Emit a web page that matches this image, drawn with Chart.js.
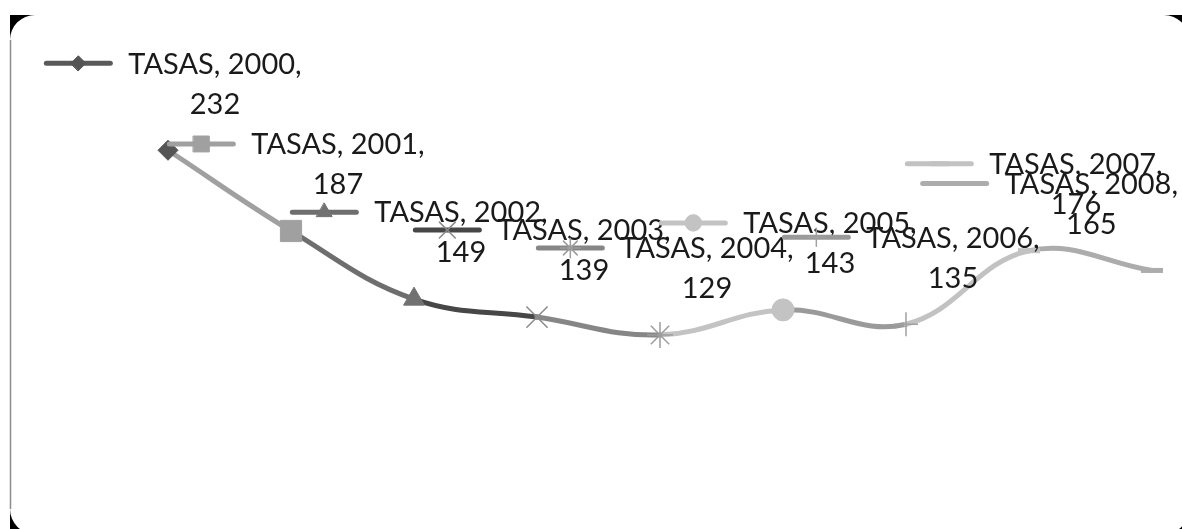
<!DOCTYPE html>
<html>
<head>
<meta charset="utf-8">
<script src="https://cdn.jsdelivr.net/npm/chart.js@4"></script>
<style>
  html, body { margin: 0; padding: 0; background: #fff; }
  #wrap { position: relative; width: 1182px; height: 529px; }
</style>
</head>
<body>
<div id="wrap"><canvas id="myChart" width="1182" height="529"></canvas></div>
<script>
"use strict";

// data
const seriesName = "TASAS";
const years = ["2000", "2001", "2002", "2003", "2004", "2005", "2006", "2007", "2008"];
const tasas = [232, 187, 149, 139, 129, 143, 135, 176, 165];

// per point styling (line colour = segment ending at that point)
const lineColors = ["#5a5a5a", "#a0a0a0", "#6e6e6e", "#474747", "#868686", "#c3c3c3", "#9a9a9a", "#c2c2c2", "#acacac"];
const markerColors = ["#555555", "#a0a0a0", "#717171", "#8a8a8a", "#9c9c9c", "#c3c3c3", "#a0a0a0", "#c2c2c2", "#acacac"];
const markerStyles = ["rectRot", "rect", "triangle", "crossRot", "star", "circle", "cross", "line", "line"];
const markerRadius = [10, 15, 12, 15, 13, 11, 12, 11, 11];
const markerBorder = [1, 1, 1, 1.5, 1.5, 1, 1.5, 5, 5];

const FONT = "29px Lato, 'Open Sans', sans-serif";

function drawMarker(ctx, i, x, y, scale) {
	let opts = {
		pointStyle: markerStyles[i],
		radius: markerRadius[i] * scale,
		rotation: 0,
		borderWidth: markerBorder[i]
	};
	ctx.save();
	ctx.fillStyle = markerColors[i];
	ctx.strokeStyle = markerColors[i];
	ctx.lineWidth = markerBorder[i];
	Chart.helpers.drawPoint(ctx, opts, x, y);
	ctx.restore();
}

// rounded frame with black corners, like the cropped picture
const framePlugin = {
	id: "frame",
	beforeDraw(chart) {
		let ctx = chart.ctx;
		let L = 10, T = 15, R = 1189, B = 534, r = 25;
		ctx.save();
		ctx.fillStyle = "#fff";
		ctx.fillRect(0, 0, chart.width, chart.height);
		ctx.fillStyle = "#000";
		ctx.fillRect(L, T, R - L, B - T);
		ctx.fillStyle = "#fff";
		ctx.beginPath();
		ctx.moveTo(L + r, T);
		ctx.lineTo(R - r, T);
		ctx.arcTo(R, T, R, T + r, r);
		ctx.lineTo(R, B - r);
		ctx.arcTo(R, B, R - r, B, r);
		ctx.lineTo(L + r, B);
		ctx.arcTo(L, B, L, B - r, r);
		ctx.lineTo(L, T + r);
		ctx.arcTo(L, T, L + r, T, r);
		ctx.closePath();
		ctx.fill();
		ctx.strokeStyle = "#8c8c8c";
		ctx.lineWidth = 1.5;
		ctx.beginPath();
		ctx.moveTo(L + 0.5, T + r);
		ctx.lineTo(L + 0.5, B - r);
		ctx.stroke();
		ctx.restore();
	}
};

// data labels with legend key, placed above each point
const labelPlugin = {
	id: "keyLabels",
	afterDatasetsDraw(chart) {
		let ctx = chart.ctx;
		let meta = chart.getDatasetMeta(0);
		let keyW = 68, gap = 16;
		ctx.save();
		ctx.font = FONT;
		ctx.textBaseline = "middle";
		for (let i = 0; i < meta.data.length; i++) {
			let p = meta.data[i];
			let line1 = seriesName + ", " + years[i] + ",";
			let w1 = ctx.measureText(line1).width;
			let blockW = keyW + gap + w1;
			let left = p.x - blockW / 2 + 5;
			if (left + blockW > chart.width - 4) left = chart.width - 4 - blockW;
			let y1 = p.y - 87, y2 = p.y - 46;

			ctx.strokeStyle = lineColors[i];
			ctx.lineWidth = 5;
			ctx.lineCap = "round";
			ctx.beginPath();
			ctx.moveTo(left + 2, y1);
			ctx.lineTo(left + keyW - 2, y1);
			ctx.stroke();
			drawMarker(ctx, i, left + keyW / 2, y1, 0.75);

			let textLeft = left + keyW + gap;
			ctx.fillStyle = "#1a1a1a";
			ctx.textAlign = "left";
			ctx.fillText(line1, textLeft, y1 + 1);
			ctx.textAlign = "center";
			ctx.fillText(String(tasas[i]), textLeft + w1 / 2, y2);
		}
		ctx.restore();
	}
};

let chart = new Chart(document.getElementById("myChart"), {
	type: "line",
	data: {
		labels: years,
		datasets: [{
			label: seriesName,
			data: tasas,
			borderWidth: 5,
			tension: 0.4,
			borderCapStyle: "round",
			segment: {
				borderColor: function (c) { return lineColors[c.p1DataIndex]; }
			},
			pointStyle: markerStyles,
			pointRadius: markerRadius,
			pointBorderWidth: markerBorder,
			pointBackgroundColor: markerColors,
			pointBorderColor: markerColors,
			clip: false
		}]
	},
	options: {
		responsive: false,
		animation: false,
		layout: { padding: { left: 168, right: 30, top: 118, bottom: 142 } },
		scales: {
			x: { display: false, offset: false },
			y: { display: false, min: 100, max: 250 }
		},
		plugins: {
			legend: { display: false },
			tooltip: { enabled: false }
		}
	},
	plugins: [framePlugin, labelPlugin]
});
</script>
</body>
</html>
